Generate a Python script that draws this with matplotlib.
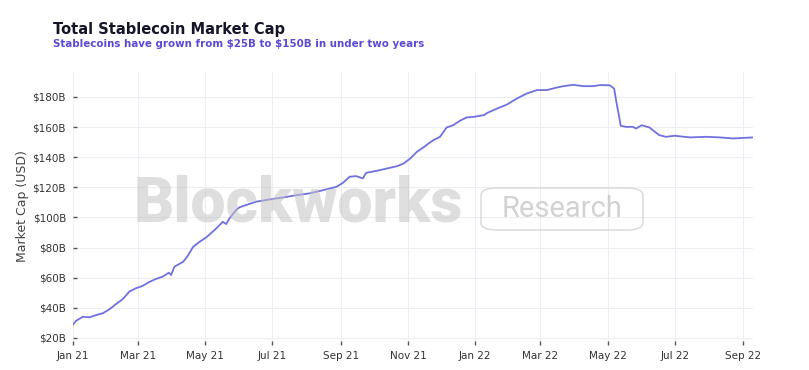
import matplotlib
matplotlib.use("Agg")
import matplotlib.pyplot as plt
import matplotlib.dates as mdates
from matplotlib.patches import FancyBboxPatch
import numpy as np
import pandas as pd

# ---- data ----
dates = [
    "2021-01-01", "2021-01-04", "2021-01-10", "2021-01-16", "2021-01-22", "2021-01-28",
    "2021-02-03", "2021-02-09", "2021-02-15", "2021-02-21", "2021-02-27", "2021-03-05",
    "2021-03-11", "2021-03-17", "2021-03-23", "2021-03-29", "2021-03-31", "2021-04-03",
    "2021-04-11", "2021-04-15", "2021-04-20", "2021-04-26", "2021-05-02", "2021-05-11",
    "2021-05-17", "2021-05-20", "2021-05-23", "2021-05-29", "2021-06-01", "2021-06-07",
    "2021-06-16", "2021-06-29", "2021-07-11", "2021-07-23", "2021-08-04", "2021-08-16",
    "2021-08-28", "2021-09-03", "2021-09-09", "2021-09-15", "2021-09-21", "2021-09-24",
    "2021-10-04", "2021-10-13", "2021-10-22", "2021-10-28", "2021-11-03", "2021-11-09",
    "2021-11-15", "2021-11-21", "2021-11-24", "2021-11-30", "2021-12-06", "2021-12-12",
    "2021-12-18", "2021-12-24", "2021-12-31", "2022-01-09", "2022-01-12", "2022-01-21",
    "2022-01-30", "2022-02-08", "2022-02-17", "2022-02-26", "2022-03-07", "2022-03-16",
    "2022-03-22", "2022-03-31", "2022-04-09", "2022-04-18", "2022-04-24", "2022-05-03",
    "2022-05-07", "2022-05-09", "2022-05-11", "2022-05-13", "2022-05-18", "2022-05-24",
    "2022-05-27", "2022-06-01", "2022-06-08", "2022-06-13", "2022-06-17", "2022-06-23",
    "2022-07-01", "2022-07-15", "2022-07-30", "2022-08-11", "2022-08-23", "2022-09-05",
    "2022-09-10",
]
market_cap_b = [
    29.0, 31.5, 34.1, 33.7, 35.2, 36.4,
    39.0, 42.5, 45.7, 50.7, 53.0, 54.5,
    57.1, 59.1, 60.6, 63.3, 61.8, 67.3,
    70.6, 74.4, 80.5, 83.9, 86.8, 92.7,
    97.1, 95.6, 99.4, 104.9, 106.7, 108.2,
    110.4, 112.0, 113.3, 114.8, 116.0, 118.1,
    120.3, 123.0, 127.0, 127.4, 125.9, 129.6,
    131.0, 132.5, 134.0, 135.8, 139.1, 143.5,
    146.5, 149.8, 151.3, 153.5, 159.7, 161.2,
    164.1, 166.3, 166.8, 167.9, 169.4, 172.3,
    175.0, 179.0, 182.3, 184.5, 184.5, 186.2,
    187.1, 188.0, 187.1, 187.1, 187.8, 187.7,
    185.5, 176.7, 169.0, 160.8, 160.1, 160.1,
    159.0, 161.2, 159.7, 156.8, 154.6, 153.5,
    154.2, 153.1, 153.5, 153.1, 152.4, 152.9,
    153.1,
]
x_tick_dates = ["2021-01-01", "2021-03-01", "2021-05-01", "2021-07-01", "2021-09-01",
                "2021-11-01", "2022-01-01", "2022-03-01", "2022-05-01", "2022-07-01",
                "2022-09-01"]
x_tick_labels = ["Jan 21", "Mar 21", "May 21", "Jul 21", "Sep 21", "Nov 21",
                 "Jan 22", "Mar 22", "May 22", "Jul 22", "Sep 22"]
y_ticks = [20, 40, 60, 80, 100, 120, 140, 160, 180]
y_tick_labels = ["$20B", "$40B", "$60B", "$80B", "$100B", "$120B", "$140B", "$160B", "$180B"]

title = "Total Stablecoin Market Cap"
subtitle = "Stablecoins have grown from $25B to $150B in under two years"
y_label = "Market Cap (USD)"

# ---- figure ----
W, H = 809, 370
fig = plt.figure(figsize=(W / 100, H / 100), dpi=100)
fig.patch.set_facecolor("white")

L, R, T, B = 73, 753, 72, 341
ax = fig.add_axes([L / W, 1 - B / H, (R - L) / W, (B - T) / H])
ax.set_facecolor("white")

x = pd.to_datetime(dates)
ax.plot(x, market_cap_b, color="#7070e0", lw=1.3, zorder=5, solid_joinstyle="round")

ax.set_xlim(pd.Timestamp("2021-01-01"), pd.Timestamp("2022-09-10"))
ax.set_ylim(18, 196.5)

ax.set_xticks(pd.to_datetime(x_tick_dates))
ax.set_xticklabels(x_tick_labels)
ax.set_yticks(y_ticks)
ax.set_yticklabels(y_tick_labels)

ax.grid(True, color="#eceef4", lw=0.8, zorder=0)
ax.set_axisbelow(True)
for s in ax.spines.values():
    s.set_visible(False)

ax.tick_params(axis="y", direction="in", length=3, width=1, color="#555555",
               pad=5, labelsize=7.5, labelcolor="#333333")
ax.tick_params(axis="x", direction="out", length=3, width=1, color="#555555",
               pad=4, labelsize=7.5, labelcolor="#333333")

ax.set_ylabel(y_label, fontsize=9, color="#444444")
ax.yaxis.set_label_coords(-(L - 29) / (R - L), 0.5)

# ---- watermark ----
fig.text(298 / W, 1 - 205 / H, "Blockworks", fontsize=45, fontweight="black",
         family=["Roboto", "DejaVu Sans"], color="#c4c4c4", alpha=0.55,
         ha="center", va="center", zorder=1)
box = FancyBboxPatch((481 / W, 1 - 230 / H), (643 - 481) / W, (230 - 188) / H,
                     boxstyle="round,pad=0,rounding_size=0.02",
                     transform=fig.transFigure, facecolor="none",
                     edgecolor="#d6d6d6", lw=1.2, alpha=0.8, zorder=1)
fig.add_artist(box)
fig.text(562 / W, 1 - 209 / H, "Research", fontsize=21,
         family=["Roboto", "DejaVu Sans"], color="#c4c4c4", alpha=0.75,
         ha="center", va="center", zorder=1)

# ---- titles ----
fig.text(53 / W, 1 - 34 / H, title, fontsize=10.5, fontweight="bold",
         color="#15152a", ha="left", va="baseline")
fig.text(53 / W, 1 - 47 / H, subtitle, fontsize=7.35, fontweight="bold",
         color="#5a4ad6", ha="left", va="baseline", parse_math=False)

fig.savefig("out.png", dpi=100)
